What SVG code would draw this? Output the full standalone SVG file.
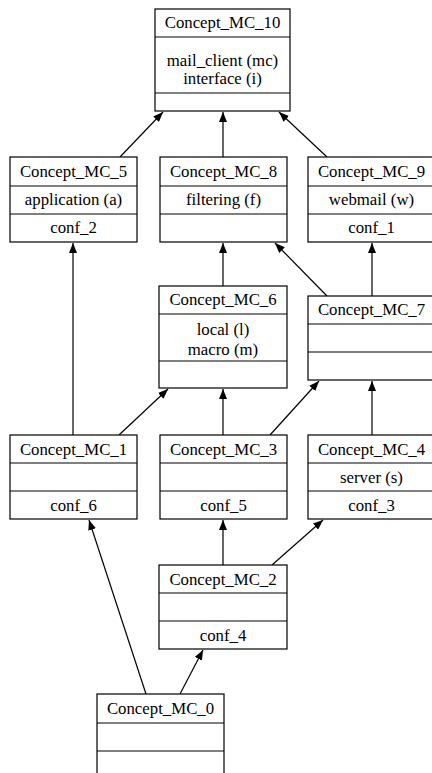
<svg xmlns="http://www.w3.org/2000/svg" width="432" height="773" viewBox="0 0 432 773">
<defs>
<style>
.b{fill:#fff;stroke:#000;stroke-width:1.2}
.l{stroke:#000;stroke-width:1.2;fill:none}
text{font-family:"Liberation Serif","Times New Roman",serif;font-size:16.8px;text-anchor:middle;fill:#000}
.e{stroke:#000;stroke-width:1.2;fill:none;marker-end:url(#a)}
</style>
<marker id="a" viewBox="0 0 10 8" refX="10" refY="4" markerWidth="10" markerHeight="8" markerUnits="userSpaceOnUse" orient="auto">
<path d="M0,0 L10,4 L0,8 Z" fill="#000"/>
</marker>
</defs>
<rect width="432" height="773" fill="#fff"/>
<g id="connectors">
<line class="e" x1="120" y1="157" x2="163" y2="112"/>
<line class="e" x1="223" y1="157" x2="223" y2="112"/>
<line class="e" x1="327" y1="157" x2="279" y2="112"/>
<line class="e" x1="223" y1="286" x2="223" y2="243"/>
<line class="e" x1="327" y1="296" x2="275" y2="243"/>
<line class="e" x1="372" y1="296" x2="372" y2="243"/>
<line class="e" x1="73" y1="435" x2="73" y2="243"/>
<line class="e" x1="119" y1="435" x2="168" y2="389"/>
<line class="e" x1="223" y1="435" x2="223" y2="389"/>
<line class="e" x1="270" y1="435" x2="319" y2="381"/>
<line class="e" x1="372" y1="435" x2="372" y2="381"/>
<line class="e" x1="223" y1="565" x2="223" y2="520"/>
<line class="e" x1="272" y1="565" x2="323" y2="520"/>
<line class="e" x1="146" y1="694" x2="89" y2="520"/>
<line class="e" x1="180" y1="694" x2="203" y2="650"/>
</g>
<g id="MC_10">
<rect class="b" x="155" y="9" width="135" height="102"/>
<line class="l" x1="155" y1="37" x2="290" y2="37"/>
<line class="l" x1="155" y1="93" x2="290" y2="93"/>
<text x="222.5" y="28">Concept_MC_10</text>
<text x="222.5" y="66">mail_client (mc)</text>
<text x="222.5" y="84">interface (i)</text>
</g>
<g id="MC_5">
<rect class="b" x="10" y="157" width="127" height="85"/>
<line class="l" x1="10" y1="186" x2="137" y2="186"/>
<line class="l" x1="10" y1="214" x2="137" y2="214"/>
<text x="73.5" y="177">Concept_MC_5</text>
<text x="73.5" y="205">application (a)</text>
<text x="73.5" y="233">conf_2</text>
</g>
<g id="MC_8">
<rect class="b" x="160" y="157" width="127" height="85"/>
<line class="l" x1="160" y1="186" x2="287" y2="186"/>
<line class="l" x1="160" y1="214" x2="287" y2="214"/>
<text x="223.5" y="177">Concept_MC_8</text>
<text x="223.5" y="205">filtering (f)</text>
</g>
<g id="MC_9">
<rect class="b" x="308" y="157" width="127" height="85"/>
<line class="l" x1="308" y1="186" x2="435" y2="186"/>
<line class="l" x1="308" y1="214" x2="435" y2="214"/>
<text x="371.5" y="177">Concept_MC_9</text>
<text x="371.5" y="205">webmail (w)</text>
<text x="371.5" y="233">conf_1</text>
</g>
<g id="MC_6">
<rect class="b" x="159" y="286" width="128" height="102"/>
<line class="l" x1="159" y1="314" x2="287" y2="314"/>
<line class="l" x1="159" y1="361" x2="287" y2="361"/>
<text x="223" y="305">Concept_MC_6</text>
<text x="223" y="335">local (l)</text>
<text x="223" y="355">macro (m)</text>
</g>
<g id="MC_7">
<rect class="b" x="308" y="296" width="127" height="84"/>
<line class="l" x1="308" y1="324" x2="435" y2="324"/>
<line class="l" x1="308" y1="352" x2="435" y2="352"/>
<text x="371.5" y="315">Concept_MC_7</text>
</g>
<g id="MC_1">
<rect class="b" x="10" y="435" width="127" height="84"/>
<line class="l" x1="10" y1="463" x2="137" y2="463"/>
<line class="l" x1="10" y1="491" x2="137" y2="491"/>
<text x="73.5" y="455">Concept_MC_1</text>
<text x="73.5" y="511">conf_6</text>
</g>
<g id="MC_3">
<rect class="b" x="160" y="435" width="127" height="84"/>
<line class="l" x1="160" y1="463" x2="287" y2="463"/>
<line class="l" x1="160" y1="491" x2="287" y2="491"/>
<text x="223.5" y="455">Concept_MC_3</text>
<text x="223.5" y="511">conf_5</text>
</g>
<g id="MC_4">
<rect class="b" x="308" y="435" width="127" height="84"/>
<line class="l" x1="308" y1="463" x2="435" y2="463"/>
<line class="l" x1="308" y1="491" x2="435" y2="491"/>
<text x="371.5" y="455">Concept_MC_4</text>
<text x="371.5" y="483">server (s)</text>
<text x="371.5" y="511">conf_3</text>
</g>
<g id="MC_2">
<rect class="b" x="159" y="565" width="128" height="84"/>
<line class="l" x1="159" y1="593" x2="287" y2="593"/>
<line class="l" x1="159" y1="621" x2="287" y2="621"/>
<text x="223" y="585">Concept_MC_2</text>
<text x="223" y="641">conf_4</text>
</g>
<g id="MC_0">
<rect class="b" x="97" y="694" width="127" height="85"/>
<line class="l" x1="97" y1="723" x2="224" y2="723"/>
<line class="l" x1="97" y1="751" x2="224" y2="751"/>
<text x="160.5" y="714">Concept_MC_0</text>
</g>
</svg>
